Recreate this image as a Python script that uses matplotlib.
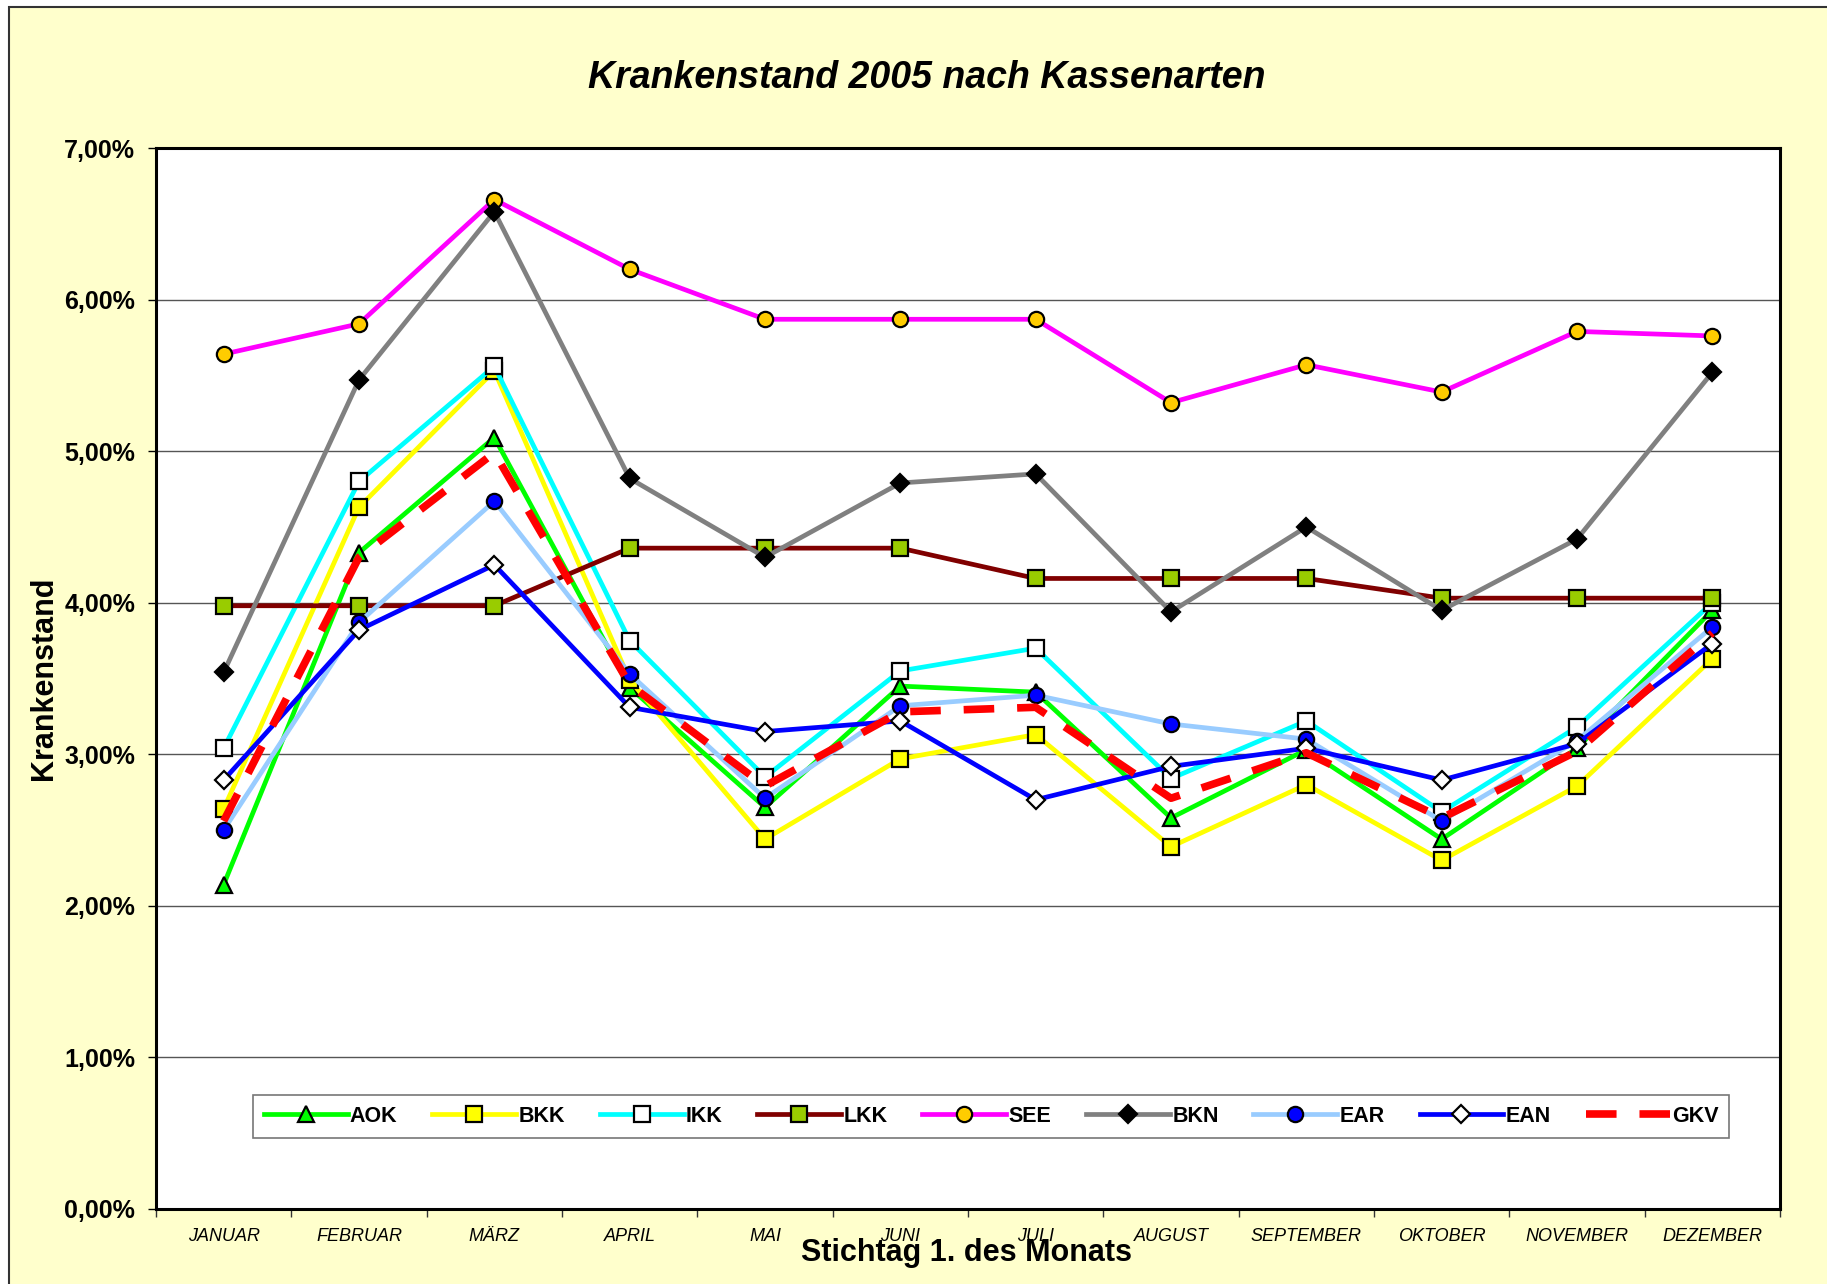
import matplotlib
matplotlib.use("Agg")
import matplotlib.pyplot as plt
from matplotlib.ticker import FuncFormatter, FixedLocator
from matplotlib.patches import Rectangle

plt.rcParams['font.family'] = ['Liberation Sans', 'DejaVu Sans']

# data (percent)
months = ['JANUAR', 'FEBRUAR', 'MÄRZ', 'APRIL', 'MAI', 'JUNI', 'JULI',
          'AUGUST', 'SEPTEMBER', 'OKTOBER', 'NOVEMBER', 'DEZEMBER']

aok = [2.14, 4.33, 5.09, 3.44, 2.65, 3.45, 3.41, 2.58, 3.03, 2.44, 3.04, 3.95]
bkk = [2.64, 4.63, 5.53, 3.49, 2.44, 2.97, 3.13, 2.39, 2.80, 2.30, 2.79, 3.63]
ikk = [3.04, 4.80, 5.56, 3.75, 2.85, 3.55, 3.70, 2.84, 3.22, 2.62, 3.18, 4.00]
lkk = [3.98, 3.98, 3.98, 4.36, 4.36, 4.36, 4.16, 4.16, 4.16, 4.03, 4.03, 4.03]
see = [5.64, 5.84, 6.66, 6.20, 5.87, 5.87, 5.87, 5.32, 5.57, 5.39, 5.79, 5.76]
bkn = [3.54, 5.47, 6.58, 4.82, 4.30, 4.79, 4.85, 3.94, 4.50, 3.95, 4.42, 5.52]
ear = [2.50, 3.87, 4.67, 3.53, 2.71, 3.32, 3.39, 3.20, 3.10, 2.56, 3.09, 3.84]
ean = [2.83, 3.82, 4.25, 3.31, 3.15, 3.22, 2.70, 2.92, 3.04, 2.83, 3.07, 3.73]
gkv = [2.56, 4.30, 4.99, 3.46, 2.79, 3.28, 3.31, 2.71, 3.01, 2.58, 3.02, 3.80]

# (label, values, line colour, marker, marker face)
series = [
    ('AOK', aok, '#00FF00', '^', '#00FF00'),
    ('BKK', bkk, '#FFFF00', 's', '#FFFF00'),
    ('IKK', ikk, '#00FFFF', 's', 'white'),
    ('LKK', lkk, '#800000', 's', '#99CC00'),
    ('SEE', see, '#FF00FF', 'o', '#FFCC00'),
    ('BKN', bkn, '#808080', 'D', 'black'),
    ('EAR', ear, '#99CCFF', 'o', '#0000FF'),
    ('EAN', ean, '#0000FF', 'D', 'white'),
]

bg = '#FFFFCC'
fig = plt.figure(figsize=(18.27, 12.84), dpi=100)
fig.patch.set_facecolor('white')
# chart area with border (slightly offset, runs off right/bottom)
fig.patches.append(Rectangle((9 / 1827, -0.01), 1.02, 1 - 7 / 1284 + 0.01,
                             transform=fig.transFigure, facecolor=bg,
                             edgecolor='#333333', linewidth=1.5, zorder=-10))

ax = fig.add_axes([156 / 1827, 1 - 1209 / 1284, (1780 - 156) / 1827, (1209 - 148) / 1284])
ax.set_zorder(1)
ax.set_facecolor('white')

x = list(range(len(months)))
for label, vals, col, mk, mfc in series:
    ms = 11 if mk != 'D' else 9
    ax.plot(x, vals, color=col, linewidth=3.4, marker=mk, markersize=ms,
            markerfacecolor=mfc, markeredgecolor='black', markeredgewidth=1.6,
            label=label, zorder=3)
ax.plot(x, gkv, color='#FF0000', linewidth=5.5, linestyle=(0, (4, 3)),
        label='GKV', zorder=4)

ax.set_xlim(-0.5, 11.5)
ax.set_ylim(0, 7)
ax.yaxis.set_major_locator(FixedLocator([0, 1, 2, 3, 4, 5, 6, 7]))
ax.yaxis.set_major_formatter(FuncFormatter(lambda v, p: f'{v:.2f}'.replace('.', ',') + '%'))
ax.grid(axis='y', color='#555555', linewidth=1.0, zorder=1)
ax.set_axisbelow(True)

ax.xaxis.set_major_locator(FixedLocator([i - 0.5 for i in range(13)]))
ax.xaxis.set_major_formatter(FuncFormatter(lambda v, p: ''))
ax.xaxis.set_minor_locator(FixedLocator(x))
ax.set_xticklabels(months, minor=True, fontsize=13, fontstyle='italic')
ax.tick_params(axis='x', which='major', direction='out', length=6, width=1, color='#333333')
ax.tick_params(axis='x', which='minor', length=0, pad=14)
ax.tick_params(axis='y', direction='out', length=6, width=1, pad=9, labelsize=18)
for t in ax.get_yticklabels():
    t.set_fontweight('bold')

for s in ax.spines.values():
    s.set_linewidth(2.2)
    s.set_color('black')

leg = ax.legend(ncol=9, loc='center', bbox_to_anchor=(0.0597, 0.0575, 0.909, 0.0595),
                mode='expand', frameon=True, fancybox=False,
                edgecolor='#555555', handlelength=3.9, handletextpad=0.1,
                borderpad=0.5, numpoints=1, borderaxespad=0,
                prop={'weight': 'bold', 'size': 15.5})
leg.get_frame().set_linewidth(1.2)
leg.set_zorder(5)

fig.text(927 / 1827, 1 - 78 / 1284, 'Krankenstand 2005 nach Kassenarten',
         ha='center', va='center', fontsize=27, fontweight='bold', fontstyle='italic')
fig.text(967 / 1827, 1 - 1253 / 1284, 'Stichtag 1. des Monats',
         ha='center', va='center', fontsize=22, fontweight='bold', zorder=5)
fig.text(44 / 1827, 1 - 678 / 1284, 'Krankenstand', rotation=90,
         ha='center', va='center', fontsize=22, fontweight='bold')

fig.savefig('out.png', dpi=100, facecolor=fig.get_facecolor())
